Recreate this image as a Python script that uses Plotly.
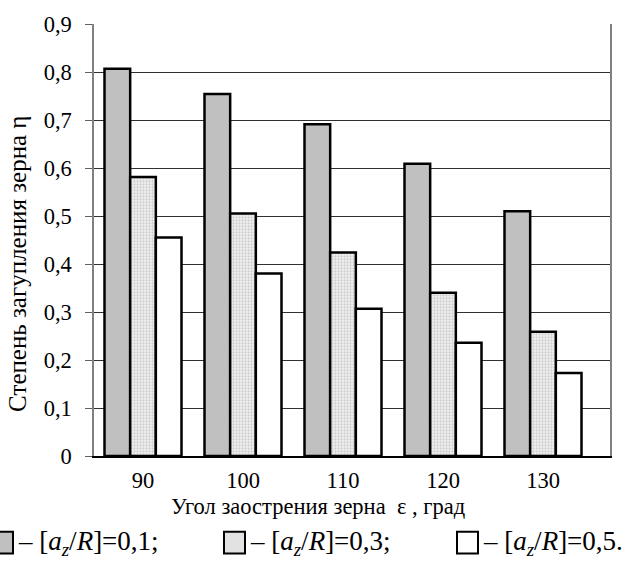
import plotly.graph_objects as go

angles = [90, 100, 110, 120, 130]
eta_01 = [0.807, 0.754, 0.691, 0.609, 0.510]
eta_03 = [0.581, 0.505, 0.424, 0.340, 0.259]
eta_05 = [0.455, 0.380, 0.307, 0.236, 0.173]
y_ticks = [0, 0.1, 0.2, 0.3, 0.4, 0.5, 0.6, 0.7, 0.8, 0.9]
y_tick_labels = ["0", "0,1", "0,2", "0,3", "0,4", "0,5", "0,6", "0,7", "0,8", "0,9"]
legend_labels = [
    "– [<i>a</i><sub><i>z</i></sub>/<i>R</i>]=0,1;",
    "– [<i>a</i><sub><i>z</i></sub>/<i>R</i>]=0,3;",
    "– [<i>a</i><sub><i>z</i></sub>/<i>R</i>]=0,5.",
]

W, H = 628, 567
L, R, T, B = 94, 18, 22, 111
PW, PH = W - L - R, H - T - B
FONT = "Liberation Serif"

def px(x):
    return (x - L) / PW

def py(y):
    return (H - B - y) / PH

line = dict(color="black", width=2.5)
fig = go.Figure()
fig.add_bar(x=angles, y=eta_01, marker=dict(color="#c0c0c0", line=line), showlegend=False)
fig.add_bar(x=angles, y=eta_03, marker=dict(color="#e2e2e2", line=line,
            pattern=dict(shape=".", size=3, solidity=0.45, fgcolor="#a8a8a8", bgcolor="#f2f2f2")),
            showlegend=False)
fig.add_bar(x=angles, y=eta_05, marker=dict(color="white", line=line), showlegend=False)

fig.update_layout(
    width=W, height=H,
    margin=dict(l=L, r=R, t=T, b=B),
    plot_bgcolor="white", paper_bgcolor="white",
    barmode="group", bargap=0.23, bargroupgap=0,
    font=dict(family=FONT, size=22, color="black"),
)
fig.update_xaxes(range=[85.1, 136.7], tickvals=angles, ticktext=[str(a) for a in angles],
                 showgrid=False, showline=True, linecolor="black", linewidth=1.5,
                 ticks="", ticklabelstandoff=3, zeroline=False,
                 tickfont=dict(family=FONT, size=22.5))
fig.update_yaxes(range=[0, 0.9], tickvals=y_ticks, ticktext=y_tick_labels,
                 showgrid=True, gridcolor="#303030", gridwidth=1,
                 showline=True, linecolor="#808080", linewidth=1.5, mirror=True,
                 ticks="outside", ticklen=7, tickcolor="#606060",
                 ticklabelstandoff=9, zeroline=False,
                 tickfont=dict(family=FONT, size=22.5))

# axis titles
fig.add_annotation(x=px(318), y=py(507), xref="paper", yref="paper",
                   text="Угол заострения зерна  ε , град", showarrow=False,
                   xanchor="center", yanchor="middle", font=dict(family=FONT, size=22.5))
fig.add_annotation(x=px(18), y=py(263), xref="paper", yref="paper",
                   text="Степень загупления зерна η", showarrow=False, textangle=-90,
                   xanchor="center", yanchor="middle", font=dict(family=FONT, size=25))

# custom legend
squares = [(-8, 13), (224, 245), (457, 478)]
fills = ["#c0c0c0", "#e2e2e2", "white"]
for (x0, x1), fc, lab in zip(squares, fills, legend_labels):
    fig.add_shape(type="rect", xref="paper", yref="paper",
                  x0=px(x0), x1=px(x1), y0=py(554), y1=py(532),
                  fillcolor=fc, line=dict(color="black", width=2))
    fig.add_annotation(x=px(x1 + 3), y=py(543), xref="paper", yref="paper",
                       text=lab, showarrow=False, xanchor="left", yanchor="middle",
                       font=dict(family=FONT, size=27))

fig.write_html("out.html", config={"displayModeBar": False},
               post_script="document.body.style.margin='0';document.body.style.overflow='hidden';")
